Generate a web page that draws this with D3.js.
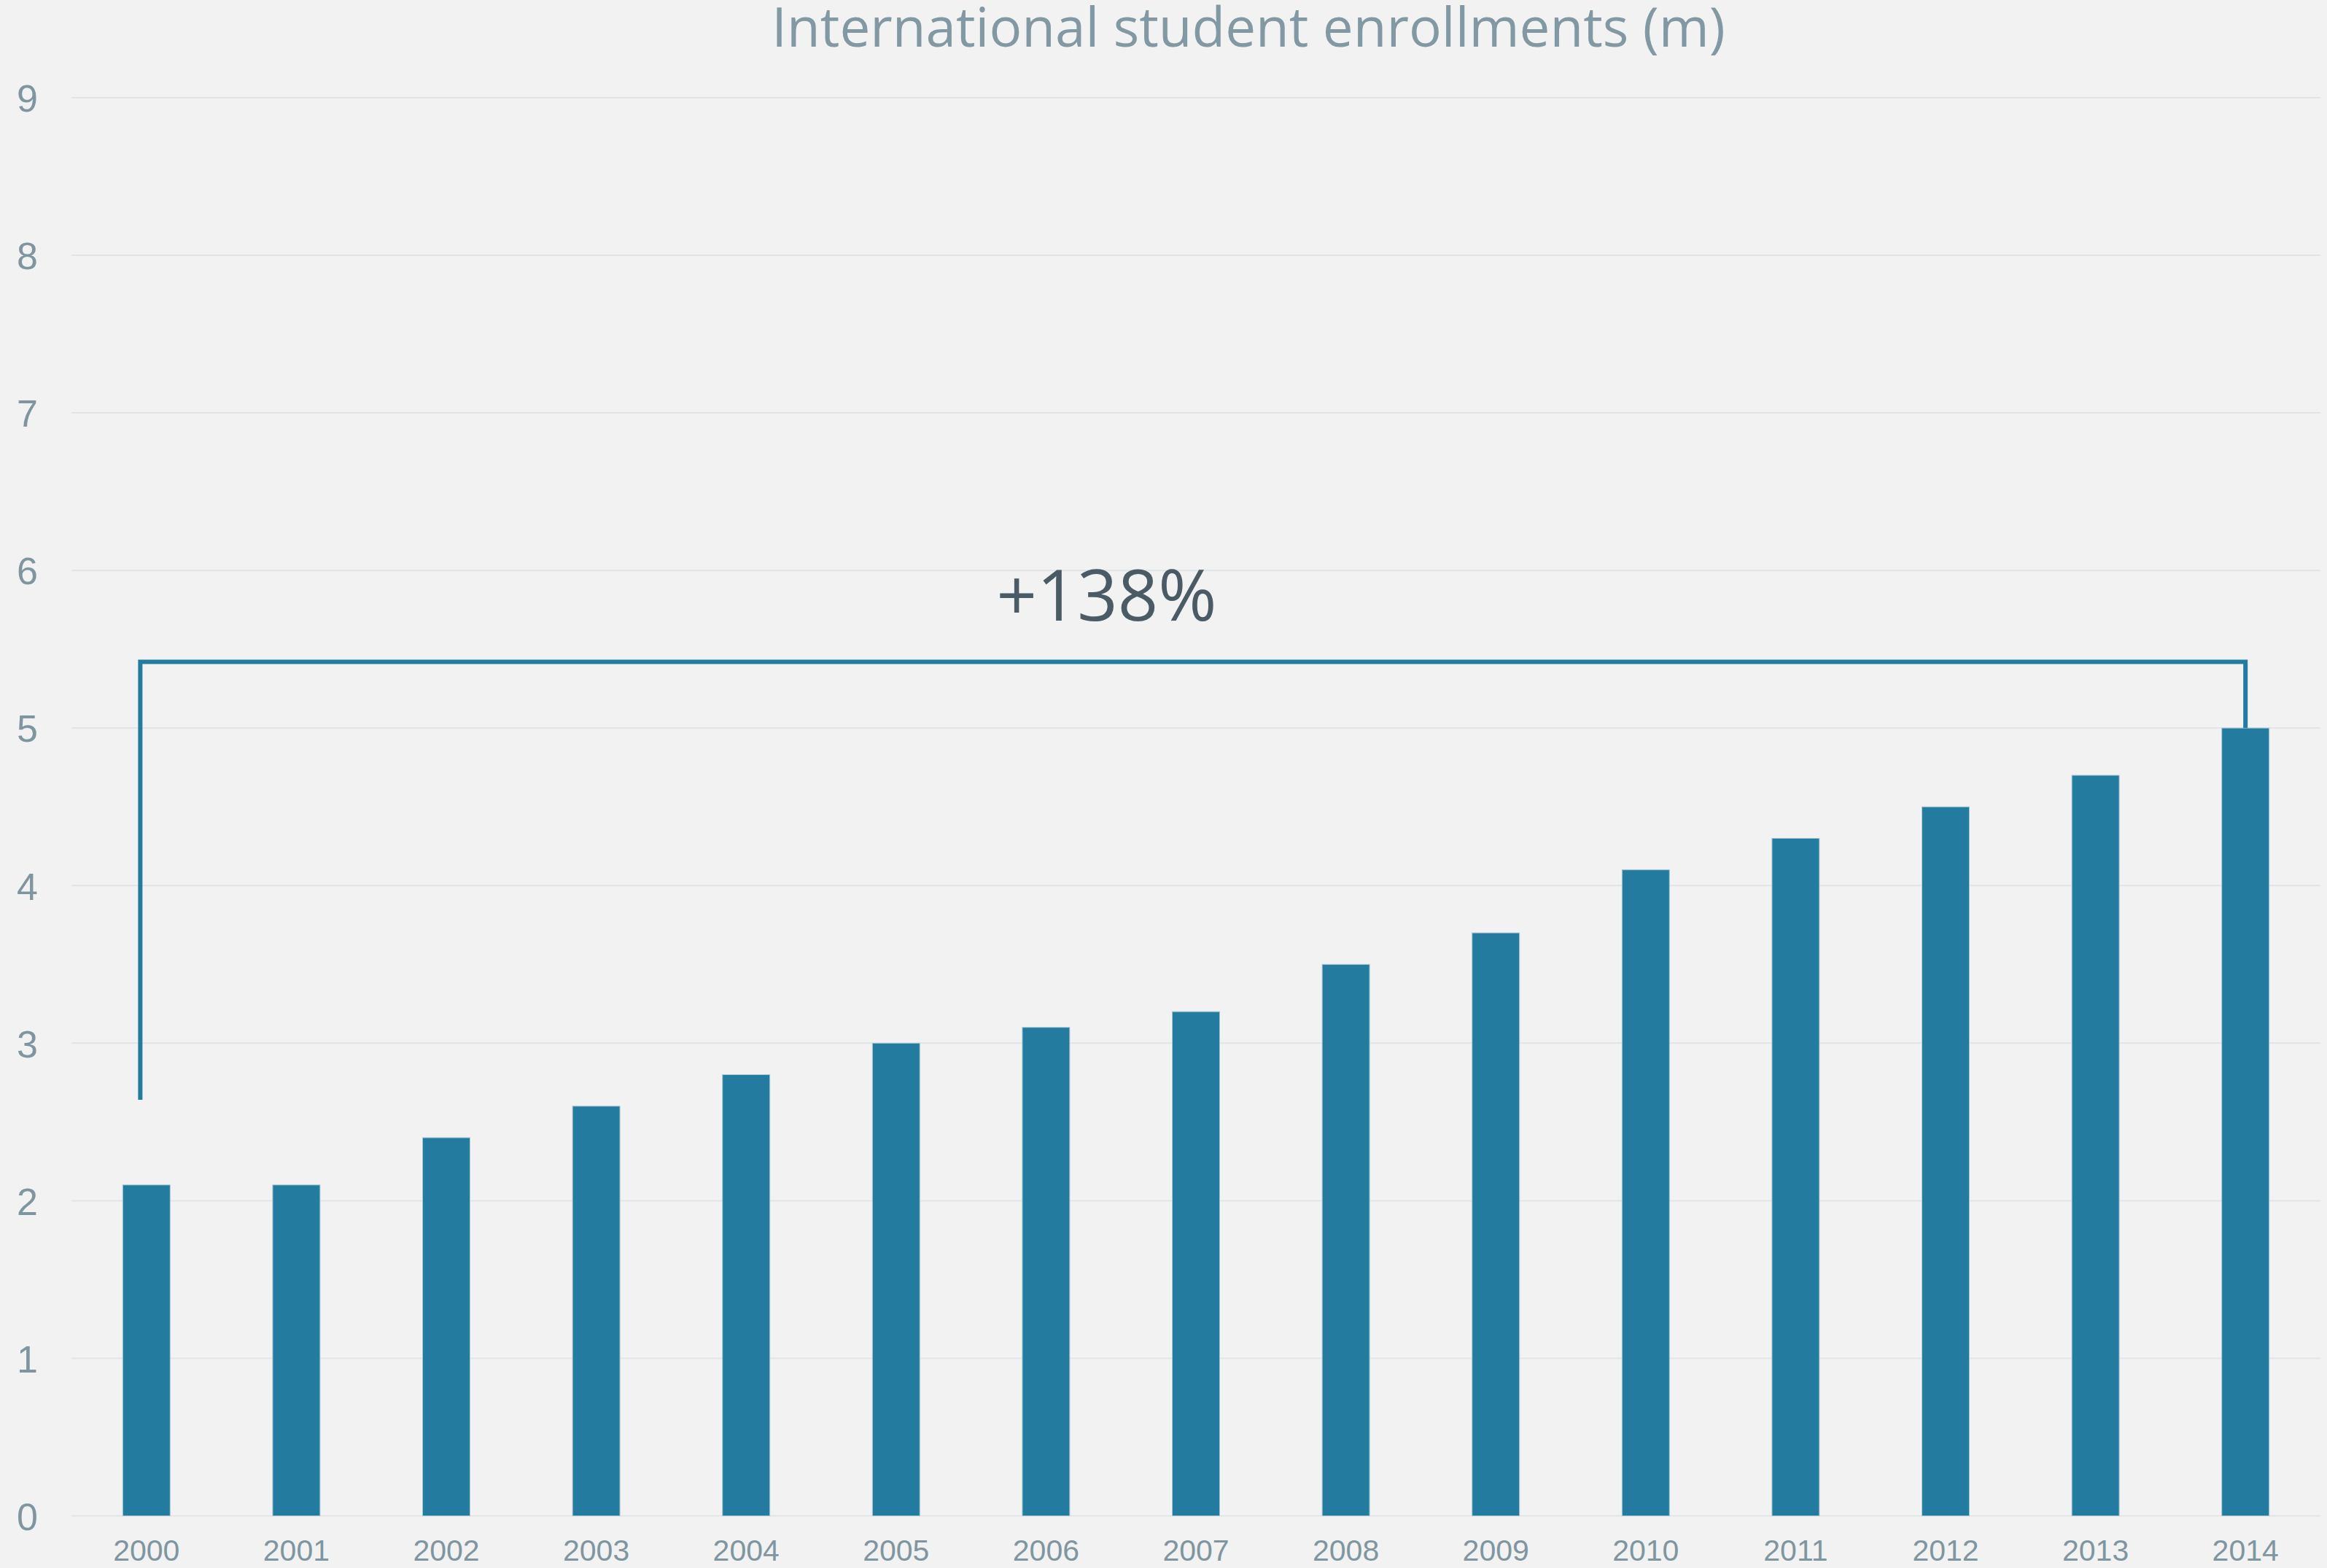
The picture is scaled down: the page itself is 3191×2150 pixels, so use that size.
<!DOCTYPE html>
<html>
<head>
<meta charset="utf-8">
<script src="https://cdn.jsdelivr.net/npm/d3@7"></script>
<style>
  html, body { margin: 0; padding: 0; background: #f2f2f2; }
  svg { display: block; }
</style>
</head>
<body>
<script>
// ---- data ----
const years = ["2000","2001","2002","2003","2004","2005","2006","2007","2008","2009","2010","2011","2012","2013","2014"];
const enrollments = [2.1, 2.1, 2.4, 2.6, 2.8, 3.0, 3.1, 3.2, 3.5, 3.7, 4.1, 4.3, 4.5, 4.7, 5.0];
const yTicks = [0, 1, 2, 3, 4, 5, 6, 7, 8, 9];
const titleText = "International student enrollments (m)";
const annotationText = "+138%";
const bracketFrom = "2000";
const bracketTo = "2014";
const bracketLevel = 5.42;      // value of bracket top line
const bracketLeftBottom = 2.64; // value where left leg ends
const annotationLevel = 5.68;   // baseline value of annotation text

// ---- layout ----
const W = 3191, H = 2150;
const mLeft = 98, mRight = 3182, mTop = 134, mBottom = 2078.5;

const svg = d3.select("body").append("svg").attr("width", W).attr("height", H);
svg.append("rect").attr("width", W).attr("height", H).attr("fill", "#f2f2f2");

const x = d3.scaleBand().domain(years).range([mLeft, mRight]).paddingInner(0.684).paddingOuter(0.342);
const y = d3.scaleLinear().domain([0, 9]).range([mBottom, mTop]);

// gridlines
svg.append("g").selectAll("line").data(yTicks).join("line")
  .attr("x1", mLeft).attr("x2", mRight)
  .attr("y1", d => y(d)).attr("y2", d => y(d))
  .attr("stroke", "#e1e5e8").attr("stroke-width", 2);

// y axis labels
const yAxis = d3.axisLeft(y).tickValues(yTicks).tickSize(0).tickPadding(0).tickFormat(d3.format("d"));
const gy = svg.append("g").attr("transform", "translate(52,0)").call(yAxis);
gy.select(".domain").remove();
gy.selectAll("text").attr("font-family", "'Liberation Sans', Arial, sans-serif")
  .attr("font-size", 52).attr("fill", "#7f96a1").attr("dy", "0.36em");

// x axis labels
const xAxis = d3.axisBottom(x).tickSize(0).tickPadding(0);
const gx = svg.append("g").attr("transform", "translate(0,2140)").call(xAxis);
gx.select(".domain").remove();
gx.selectAll("text").attr("font-family", "'Liberation Sans', Arial, sans-serif")
  .attr("font-size", 41).attr("fill", "#7f96a1").attr("dy", 0);

// bars
svg.append("g").selectAll("rect").data(years.map((yr, i) => ({ yr, v: enrollments[i] }))).join("rect")
  .attr("x", d => x(d.yr)).attr("width", x.bandwidth())
  .attr("y", d => y(d.v)).attr("height", d => y(0) - y(d.v))
  .attr("fill", "#237ba0").attr("stroke", "#a9c7d5").attr("stroke-width", 1);

// bracket annotation
const bx0 = x(bracketFrom) + x.bandwidth() * 0.37;
const bx1 = x(bracketTo) + x.bandwidth() / 2;
const toIdx = years.indexOf(bracketTo);
const bracket = d3.path();
bracket.moveTo(bx0, y(bracketLeftBottom));
bracket.lineTo(bx0, y(bracketLevel));
bracket.lineTo(bx1, y(bracketLevel));
bracket.lineTo(bx1, y(enrollments[toIdx]));
svg.append("path").attr("d", bracket.toString())
  .attr("fill", "none").attr("stroke", "#247ba0").attr("stroke-width", 6)
  .attr("stroke-linejoin", "miter");

svg.append("text")
  .attr("x", bx0 + (bx1 - bx0) * 0.459).attr("y", y(annotationLevel))
  .attr("text-anchor", "middle")
  .attr("font-family", "'Open Sans', sans-serif").attr("font-size", 97)
  .attr("fill", "#4a5b65").text(annotationText);

// title
svg.append("text")
  .attr("x", 1712).attr("y", 64)
  .attr("text-anchor", "middle")
  .attr("font-family", "'Open Sans', sans-serif").attr("font-size", 74.6)
  .attr("fill", "#8298a3").text(titleText);
</script>
</body>
</html>
